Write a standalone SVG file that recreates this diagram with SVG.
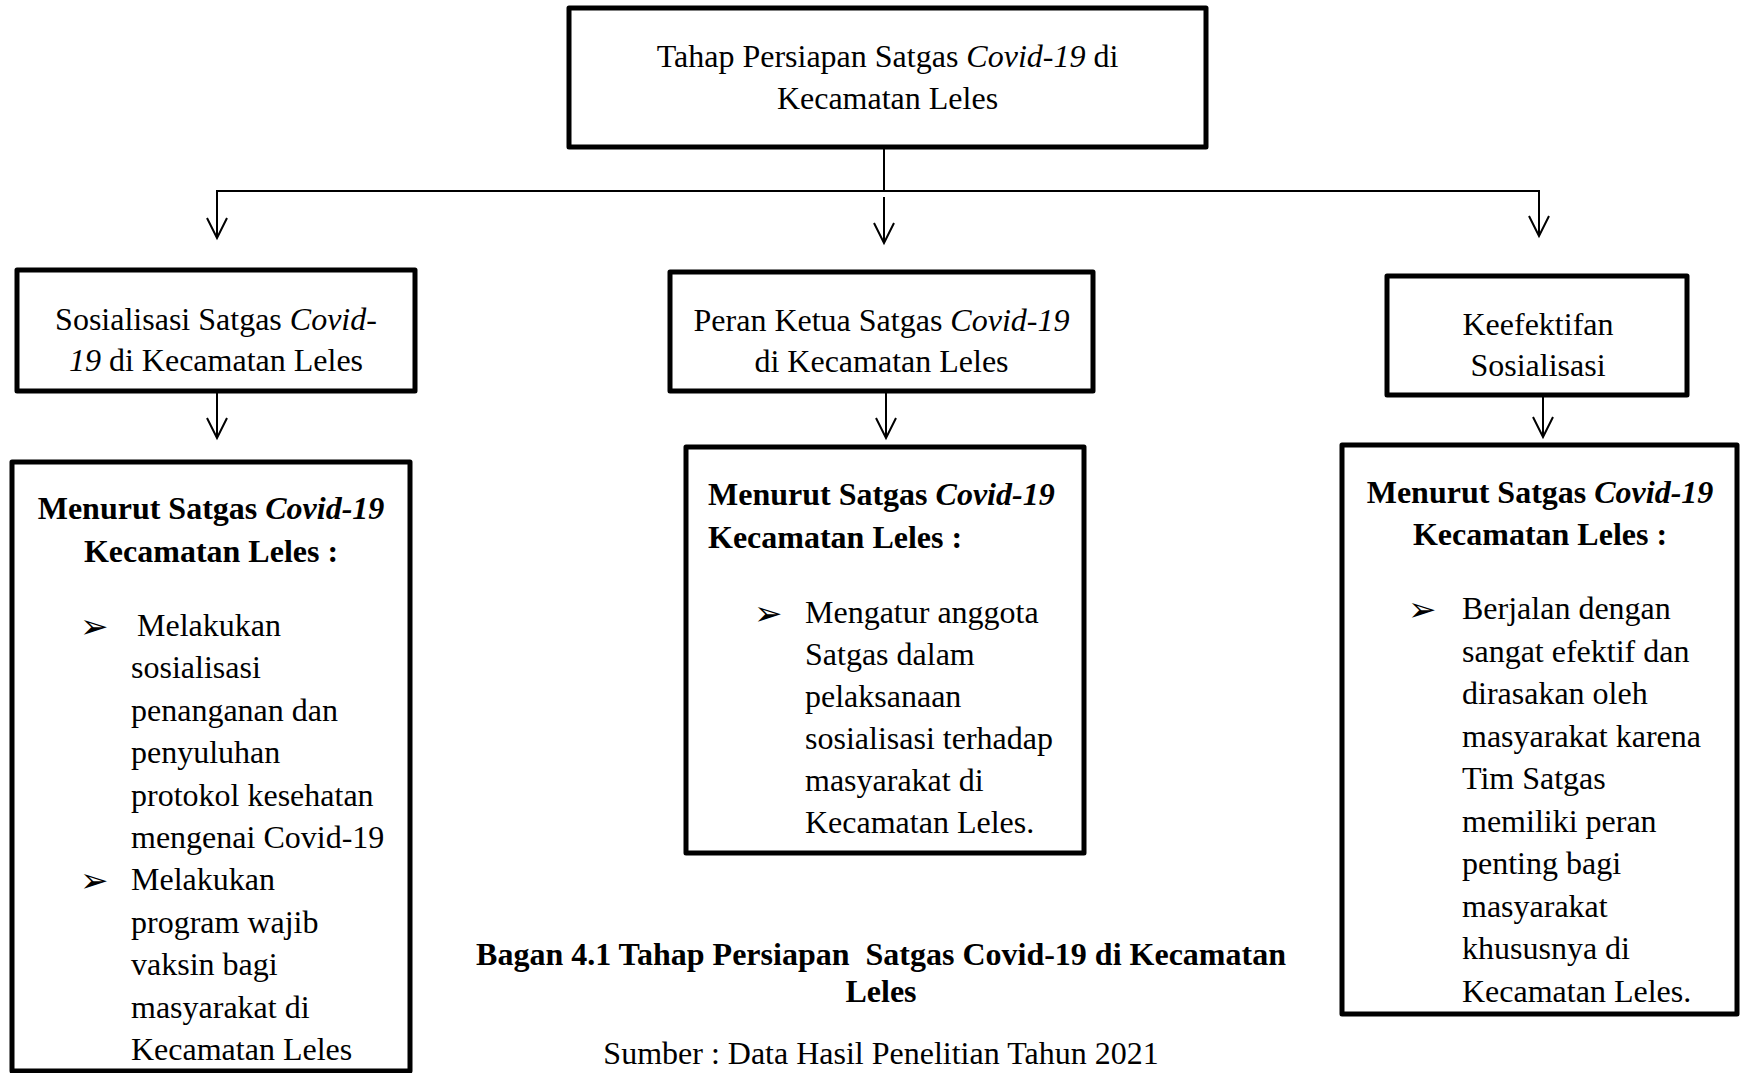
<svg xmlns="http://www.w3.org/2000/svg" width="1740" height="1073" viewBox="0 0 1740 1073">
<style>
  text { font-family: "Liberation Serif", "Times New Roman", serif; font-size: 32px; fill: #000; }
  .c { text-anchor: middle; }
  .b { font-weight: bold; }
  .i { font-style: italic; }
  .box { fill: #fff; stroke: #000; stroke-width: 5; stroke-linejoin: round; }
  .ln { fill: none; stroke: #000; stroke-width: 2; }
  .bul { font-family: "DejaVu Sans", sans-serif; font-size: 34px; }
</style>
<defs>
  <marker id="arr" markerUnits="userSpaceOnUse" markerWidth="30" markerHeight="30" refX="0" refY="0" orient="auto" overflow="visible">
    <path d="M-20,-10 L0,0 L-20,10" fill="none" stroke="#000" stroke-width="2"/>
  </marker>
  <clipPath id="clipR"><rect x="1344" y="447" width="391" height="560"/></clipPath>
</defs>
<rect width="1740" height="1073" fill="#fff"/>

<g id="connectors">
  <line class="ln" x1="884" y1="147" x2="884" y2="191"/>
  <line class="ln" x1="216" y1="191" x2="1540" y2="191"/>
  <line class="ln" x1="217" y1="191" x2="217" y2="238" marker-end="url(#arr)"/>
  <line class="ln" x1="884" y1="197" x2="884" y2="243" marker-end="url(#arr)"/>
  <line class="ln" x1="1539" y1="191" x2="1539" y2="236" marker-end="url(#arr)"/>
  <line class="ln" x1="217" y1="393" x2="217" y2="438" marker-end="url(#arr)"/>
  <line class="ln" x1="886" y1="393" x2="886" y2="438" marker-end="url(#arr)"/>
  <line class="ln" x1="1543" y1="395" x2="1543" y2="437" marker-end="url(#arr)"/>
</g>

<g id="node-top">
  <rect class="box" x="569" y="8" width="637" height="139"/>
  <text class="c" x="887.5" y="67">Tahap Persiapan Satgas <tspan class="i">Covid-19</tspan> di</text>
  <text class="c" x="887.5" y="109">Kecamatan Leles</text>
</g>

<g id="node-sosialisasi">
  <rect class="box" x="17" y="270" width="398" height="121"/>
  <text class="c" x="216" y="330">Sosialisasi Satgas <tspan class="i">Covid-</tspan></text>
  <text class="c" x="216" y="371"><tspan class="i">19</tspan> di Kecamatan Leles</text>
</g>

<g id="node-peran">
  <rect class="box" x="670" y="272" width="423" height="119"/>
  <text class="c" x="881.5" y="331">Peran Ketua Satgas <tspan class="i">Covid-19</tspan></text>
  <text class="c" x="881.5" y="372">di Kecamatan Leles</text>
</g>

<g id="node-keefektifan">
  <rect class="box" x="1387" y="276" width="300" height="119"/>
  <text class="c" x="1538" y="335">Keefektifan</text>
  <text class="c" x="1538" y="376">Sosialisasi</text>
</g>

<g id="node-menurut-1">
  <rect class="box" x="12" y="462" width="398" height="609"/>
  <text class="c b" x="211" y="519">Menurut Satgas <tspan class="i">Covid-19</tspan></text>
  <text class="c b" x="211" y="562">Kecamatan Leles :</text>
  <text class="bul" x="80" y="638">➢</text>
  <text x="137" y="636">Melakukan</text>
  <text x="131" y="678.4">sosialisasi</text>
  <text x="131" y="720.8">penanganan dan</text>
  <text x="131" y="763.2">penyuluhan</text>
  <text x="131" y="805.6">protokol kesehatan</text>
  <text x="131" y="848">mengenai Covid-19</text>
  <text class="bul" x="80" y="892.4">➢</text>
  <text x="131" y="890.4">Melakukan</text>
  <text x="131" y="932.8">program wajib</text>
  <text x="131" y="975.2">vaksin bagi</text>
  <text x="131" y="1017.6">masyarakat di</text>
  <text x="131" y="1060">Kecamatan Leles</text>
</g>

<g id="node-menurut-2">
  <rect class="box" x="686" y="447" width="398" height="406"/>
  <text class="b" x="708" y="505">Menurut Satgas <tspan class="i">Covid-19</tspan></text>
  <text class="b" x="708" y="548">Kecamatan Leles :</text>
  <text class="bul" x="754" y="625">➢</text>
  <text x="805" y="623">Mengatur anggota</text>
  <text x="805" y="665">Satgas dalam</text>
  <text x="805" y="707">pelaksanaan</text>
  <text x="805" y="749">sosialisasi terhadap</text>
  <text x="805" y="791">masyarakat di</text>
  <text x="805" y="833">Kecamatan Leles.</text>
</g>

<g id="node-menurut-3">
  <rect class="box" x="1342" y="445" width="395" height="569"/>
  <text class="c b" x="1540" y="503">Menurut Satgas <tspan class="i">Covid-19</tspan></text>
  <text class="c b" x="1540" y="545">Kecamatan Leles :</text>
  <g clip-path="url(#clipR)">
    <text class="bul" x="1408" y="621">➢</text>
    <text x="1462" y="619">Berjalan dengan</text>
    <text x="1462" y="661.5">sangat efektif dan</text>
    <text x="1462" y="704">dirasakan oleh</text>
    <text x="1462" y="746.5">masyarakat karena</text>
    <text x="1462" y="789">Tim Satgas</text>
    <text x="1462" y="831.5">memiliki peran</text>
    <text x="1462" y="874">penting bagi</text>
    <text x="1462" y="916.5">masyarakat</text>
    <text x="1462" y="959">khususnya di</text>
    <text x="1462" y="1001.5">Kecamatan Leles.</text>
  </g>
</g>

<g id="caption">
  <text class="c b" x="881" y="965">Bagan 4.1 Tahap Persiapan&#160; Satgas Covid-19 di Kecamatan</text>
  <text class="c b" x="881" y="1002">Leles</text>
  <text class="c" x="881" y="1064">Sumber : Data Hasil Penelitian Tahun 2021</text>
</g>
</svg>
